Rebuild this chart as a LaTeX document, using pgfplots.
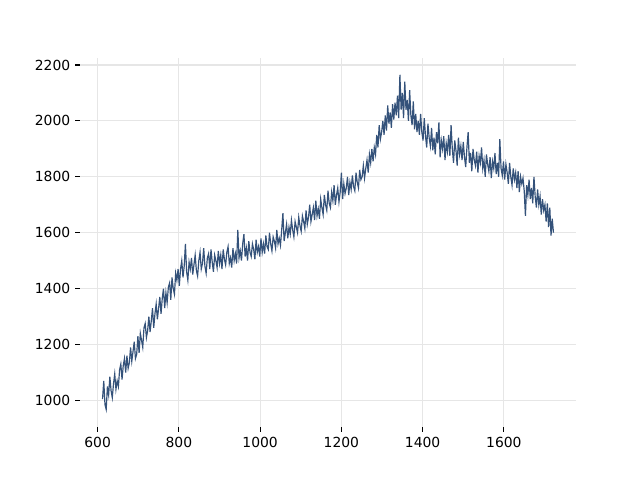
\documentclass[border=0pt]{standalone}
\usepackage{pgfplots}
\pgfplotsset{compat=1.18}
\usepackage{fontspec}
\setmainfont{DejaVu Sans}
\definecolor{lineblue}{RGB}{52,82,122}
\definecolor{gridgray}{RGB}{230,230,230}
\begin{document}
\begin{tikzpicture}
\path (0,0) rectangle (460.8pt,345.6pt);
\begin{axis}[
  at={(57.6pt,38.16pt)}, anchor=south west,
  scale only axis, width=357.12pt, height=265.68pt,
  xmin=556.5, xmax=1777.5, ymin=905, ymax=2225,
  xtick={600,800,1000,1200,1400,1600},
  ytick={1000,1200,1400,1600,1800,2000,2200},
  axis line style={draw=none},
  xtick pos=bottom, ytick pos=left, tick align=outside,
  major tick length=3.5pt,
  tick style={black, line width=0.8pt},
  grid=major, major grid style={gridgray, line width=0.8pt},
  ticklabel style={font=\fontsize{10}{12}\selectfont},
  /pgf/number format/assume math mode=true,
  /pgf/number format/1000 sep={},
  scaled ticks=false,
]
\addplot[lineblue, line width=0.85pt, mark=none] coordinates {
(612,1005)(615,1070)(618,985)(621,968)(624,1050)(627,1020)(630,1085)(633,1035)(636,1010)(639,1060)(642,1095)(645,1040)(648,1070)
(651,1050)(654,1110)(657,1130)(660,1075)(663,1125)(666,1150)(669,1100)(672,1160)(675,1115)(678,1135)(681,1190)(684,1140)(687,1175)(690,1210)(693,1150)(696,1165)(699,1230)
(702,1170)(705,1240)(708,1215)(711,1190)(714,1260)(717,1275)(720,1225)(723,1250)(726,1300)(729,1245)(732,1285)(735,1330)(738,1260)(741,1310)(744,1345)(747,1290)(750,1330)
(753,1370)(756,1310)(759,1365)(762,1400)(765,1330)(768,1385)(771,1350)(774,1405)(777,1420)(780,1360)(783,1440)(786,1400)(789,1380)(792,1455)(795,1430)(798,1470)
(801,1410)(804,1470)(807,1500)(810,1440)(813,1480)(816,1560)(819,1460)(822,1430)(825,1495)(828,1470)(831,1510)(834,1450)(837,1485)(840,1520)(843,1465)(846,1445)(849,1500)
(852,1530)(855,1470)(858,1490)(861,1545)(864,1480)(867,1455)(870,1510)(873,1525)(876,1470)(879,1540)(882,1495)(885,1460)(888,1520)(891,1500)(894,1475)(897,1535)(900,1490)
(903,1520)(906,1470)(909,1540)(912,1505)(915,1485)(918,1530)(921,1550)(924,1490)(927,1510)(930,1475)(933,1545)(936,1500)(939,1525)(942,1490)(945,1610)(948,1510)(951,1535)
(954,1500)(957,1560)(960,1595)(963,1515)(966,1545)(969,1500)(972,1570)(975,1530)(978,1515)(981,1560)(984,1540)(987,1505)(990,1575)(993,1530)(996,1550)(999,1515)
(1002,1580)(1005,1530)(1008,1560)(1011,1525)(1014,1590)(1017,1550)(1020,1540)(1023,1600)(1026,1560)(1029,1535)(1032,1585)(1035,1570)(1038,1545)(1041,1610)(1044,1560)(1047,1580)(1050,1555)
(1053,1610)(1056,1670)(1059,1570)(1062,1600)(1065,1630)(1068,1580)(1071,1620)(1074,1595)(1077,1645)(1080,1610)(1083,1585)(1086,1640)(1089,1620)(1092,1600)(1095,1655)(1098,1625)
(1101,1605)(1104,1660)(1107,1640)(1110,1615)(1113,1680)(1116,1630)(1119,1655)(1122,1700)(1125,1640)(1128,1665)(1131,1690)(1134,1645)(1137,1715)(1140,1660)(1143,1685)(1146,1650)(1149,1720)
(1152,1690)(1155,1665)(1158,1735)(1161,1700)(1164,1680)(1167,1750)(1170,1705)(1173,1690)(1176,1745)(1179,1715)(1182,1770)(1185,1700)(1188,1735)(1191,1760)(1194,1710)(1197,1745)(1200,1815)
(1203,1720)(1206,1775)(1209,1740)(1212,1760)(1215,1800)(1218,1735)(1221,1780)(1224,1755)(1227,1805)(1230,1765)(1233,1750)(1236,1815)(1239,1780)(1242,1760)(1245,1825)(1248,1790)
(1251,1800)(1254,1840)(1257,1795)(1260,1830)(1263,1860)(1266,1815)(1269,1880)(1272,1850)(1275,1900)(1278,1855)
(1281,1905)(1284,1880)(1287,1950)(1290,1905)(1293,1985)(1296,1935)(1299,1960)
(1302,2000)(1305,1950)(1308,2020)(1311,1965)(1314,2055)(1317,1990)(1320,2030)(1323,1975)(1326,2060)(1329,2005)
(1332,2065)(1335,2020)(1338,2090)(1341,2010)(1344,2165)(1347,2040)(1350,2100)
(1353,2010)(1356,2140)(1359,2040)(1362,2075)(1365,2000)(1368,2110)
(1371,2020)(1374,1985)(1377,2070)(1380,1970)(1383,2025)(1386,1960)(1389,2000)
(1392,1950)(1395,2025)(1398,1960)(1401,1930)(1404,2010)(1407,1945)(1410,1905)(1413,1990)(1416,1940)(1419,1910)
(1422,1975)(1425,1895)(1428,1940)(1431,1880)(1434,1960)(1437,1920)(1440,1995)(1443,1870)(1446,1930)(1449,1900)
(1452,1945)(1455,1860)(1458,1920)(1461,1890)(1464,1950)(1467,1875)(1470,1985)(1473,1900)(1476,1850)(1479,1930)(1482,1895)(1485,1840)(1488,1940)(1491,1880)(1494,1910)(1497,1860)(1500,1925)
(1503,1870)(1506,1835)(1509,1905)(1512,1960)(1515,1850)(1518,1885)(1521,1820)(1524,1900)(1527,1860)(1530,1840)(1533,1890)(1536,1815)(1539,1875)(1542,1850)(1545,1905)(1548,1830)(1551,1860)
(1554,1800)(1557,1880)(1560,1845)(1563,1820)(1566,1870)(1569,1795)(1572,1855)(1575,1830)(1578,1885)(1581,1810)(1584,1850)(1587,1800)(1590,1935)(1593,1830)(1596,1805)(1599,1855)
(1602,1790)(1605,1845)(1608,1815)(1611,1775)(1614,1850)(1617,1800)(1620,1770)(1623,1830)(1626,1790)(1629,1815)(1632,1760)(1635,1820)(1638,1745)(1641,1800)(1644,1775)(1647,1795)(1650,1750)
(1653,1660)(1656,1770)(1659,1735)(1662,1790)(1665,1720)(1668,1760)(1671,1705)(1674,1800)(1677,1730)(1680,1690)(1683,1755)(1686,1700)(1689,1730)(1692,1665)(1695,1720)(1698,1680)
(1701,1700)(1704,1640)(1707,1705)(1710,1620)(1713,1690)(1716,1590)(1719,1650)(1722,1600)
};
\end{axis}
\end{tikzpicture}
\end{document}
